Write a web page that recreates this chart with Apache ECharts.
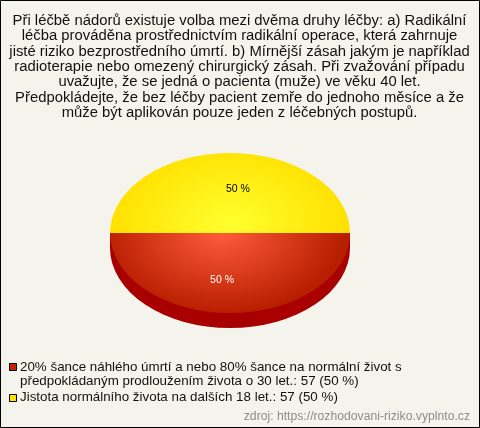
<!DOCTYPE html>
<html><head><meta charset="utf-8">
<style>html,body{margin:0;padding:0;background:#f5f4ec}#c{width:480px;height:428px}</style>
<script src="https://cdn.jsdelivr.net/npm/echarts@6/dist/echarts.min.js"></script>
</head><body><div id="c"></div>
<script>
const titleLines = [
 "Při léčbě nádorů existuje volba mezi dvěma druhy léčby: a) Radikální",
 "léčba prováděna prostřednictvím radikální operace, která zahrnuje",
 "jisté riziko bezprostředního úmrtí. b) Mírnější zásah jakým je například",
 "radioterapie nebo omezený chirurgický zásah. Při zvažování případu",
 "uvažujte, že se jedná o pacienta (muže) ve věku 40 let.",
 "Předpokládejte, že bez léčby pacient zemře do jednoho měsíce a že",
 "může být aplikován pouze jeden z léčebných postupů."
];
const legendLines = [
 ["20% šance náhlého úmrtí a nebo 80% šance na normální život s","předpokládaným prodloužením života o 30 let.: 57 (50 %)"],
 ["Jistota normálního života na dalších 18 let.: 57 (50 %)"]
];
const categories = ["20% šance náhlého úmrtí a nebo 80% šance na normální život s předpokládaným prodloužením života o 30 let.","Jistota normálního života na dalších 18 let."];
const values = [57, 57];
const percentLabels = ["50 %", "50 %"];
const sourceText = "zdroj: https://rozhodovani-riziko.vyplnto.cz";

const FONT = '"Liberation Sans", Arial, sans-serif';
const total = values.reduce((a, b) => a + b, 0);
const CX = 230, CY = 233, RX = 120, RY = 80, DEPTH = 15;
const faces = [
  {inner:'#ff5c3c', outer:'#b81e00', gx:-8, gy:0, label:'#ffffff', ky:0.59},
  {inner:'#ffff2e', outer:'#ffe000', gx:0, gy:-15, label:'#000000', ky:0.57}
];
const wall = '#a80000';

function renderSlice(params, api) {
  const i = params.seriesIndex;
  let before = 0;
  for (let k = 0; k < i; k++) before += values[k];
  const v = api.value(0);
  const a0 = before / total * Math.PI * 2;
  const a1 = (before + v) / total * Math.PI * 2;
  const f = faces[i];
  const mid = (a0 + a1) / 2 + 0.18;
  const children = [];
  if (Math.sin((a0 + a1) / 2) > 0) {
    children.push({type:'rect', shape:{x:-RX, y:0, width:RX*2, height:DEPTH}, style:{fill:wall}});
    children.push({type:'sector', x:0, y:DEPTH, scaleY:RY/RX,
      shape:{cx:0, cy:0, r:RX, r0:0, startAngle:a0, endAngle:a1, clockwise:true}, style:{fill:wall}});
  }
  children.push({type:'sector', scaleY:RY/RX,
    shape:{cx:0, cy:0, r:RX, r0:0, startAngle:a0, endAngle:a1, clockwise:true},
    style:{fill:{type:'radial', x:f.gx, y:f.gy, r:RX, global:true,
      colorStops:[{offset:0,color:f.inner},{offset:1,color:f.outer}]}}});
  children.push({type:'text', x:Math.cos(mid)*RX*0.37, y:Math.sin(mid)*RY*f.ky + 1,
    style:{text:percentLabels[i], fill:f.label, font:'10.5px '+FONT, align:'center', verticalAlign:'middle'}});
  return {type:'group', x:CX, y:CY, children};
}

const graphics = [
  {type:'rect', silent:true, shape:{x:0.5,y:0.5,width:479,height:427}, style:{fill:'none',stroke:'#000',lineWidth:1}, z:10}
];
titleLines.forEach((t, i) => graphics.push({type:'text', x:239.5, y:21 + i*15.35,
  style:{text:t, fill:'#111', font:'14.85px '+FONT, align:'center', verticalAlign:'middle'}}));
const legendY = [[367, 381], [397.5]];
const legendCol = ['#c82400', '#ffe000'];
legendLines.forEach((ls, i) => {
  graphics.push({type:'rect', shape:{x:9.5, y:Math.round(legendY[i][0])-3.5, width:7, height:7}, style:{fill:legendCol[i], stroke:'#000', lineWidth:1}});
  ls.forEach((t, j) => graphics.push({type:'text', x:20, y:legendY[i][j],
    style:{text:t, fill:'#111', font:'13.36px '+FONT, align:'left', verticalAlign:'middle'}}));
});
graphics.push({type:'text', x:470, y:416.5, style:{text:sourceText, fill:'#8c8c8c', font:'12.2px '+FONT, align:'right', verticalAlign:'middle'}});

const chart = echarts.init(document.getElementById('c'), null, {renderer:'canvas'});
chart.setOption({
  animation:false,
  backgroundColor:'#f5f4ec',
  graphic:graphics,
  series: categories.map((name, i) => ({
    type:'custom', name, coordinateSystem:'none', silent:true,
    renderItem:renderSlice, data:[[values[i]]], z: i === 0 ? 2 : 3
  }))
});
</script></body></html>
